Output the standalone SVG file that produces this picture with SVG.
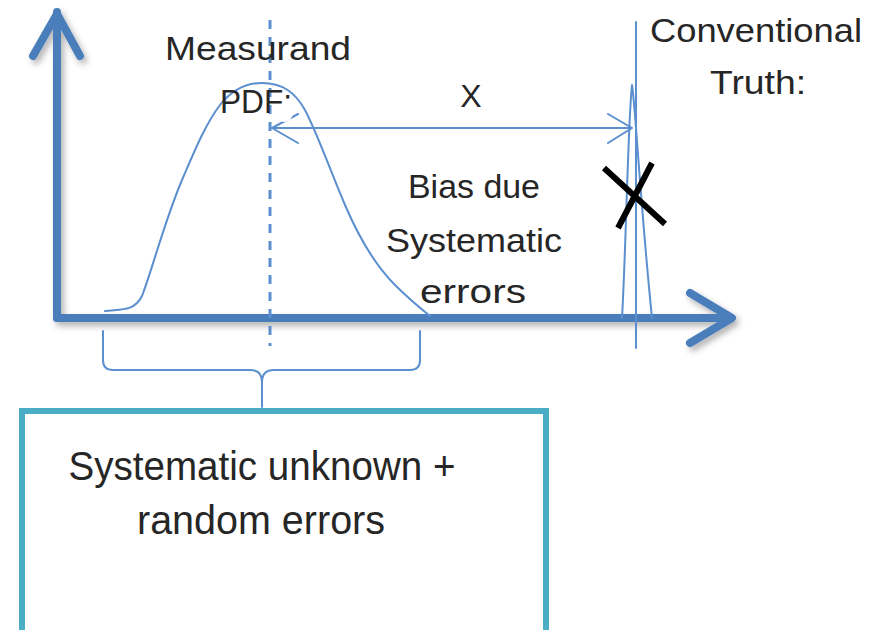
<svg xmlns="http://www.w3.org/2000/svg" width="871" height="630" viewBox="0 0 871 630">
<defs>
<style>
.txt{font-family:"Liberation Sans","DejaVu Sans",sans-serif;fill:#262626;text-anchor:middle}
.axis{stroke:#4a7ebb;stroke-width:8;fill:none;stroke-linecap:round;stroke-linejoin:round}
.thin{stroke:#5b8fcf;stroke-width:2;fill:none;stroke-linecap:round;stroke-linejoin:round}
</style>
<filter id="sh" x="-10%" y="-10%" width="130%" height="130%">
<feDropShadow dx="3" dy="4" stdDeviation="3" flood-color="#000" flood-opacity="0.3"/>
</filter>
</defs>
<rect width="871" height="630" fill="#fff"/>
<g id="axes" filter="url(#sh)">
<path class="axis" d="M57 318 V12 M33 56 L57 14 L80 56"/>
<path class="axis" d="M57 318 H730 M690 293 L732 318 L690 343"/>
</g>
<g id="pdf-curve">
<path class="thin" d="M105 311 C120 309 134 312 142 296 C152 270 165 220 182 180 C195 150 205 125 220 105 C232 90 245 83 262 83 C282 83 295 92 305 110 C318 135 330 170 345 205 C360 240 375 265 395 285 C408 298 420 308 430 316"/>
<line x1="270" y1="20" x2="270" y2="346" stroke="#5b8fcf" stroke-width="3" stroke-dasharray="9,8"/>
</g>
<g id="truth">
<line class="thin" x1="636" y1="22" x2="636" y2="348"/>
<path class="thin" d="M622 318 C626 250 628 120 632 85 C635 100 640 200 652 318"/>
</g>
<g id="connectors">
<path class="thin" d="M272 128 H632 M298 114 L272 128 L298 143 M608 114 L632 128 L608 143"/>
<path class="thin" d="M103 331 V360 Q103 370 113 370 H250 Q262 370 262 382 V407 M262 382 Q262 370 274 370 H410 Q420 370 420 360 V331"/>
</g>
<g id="truth-mark">
<path d="M604 168 L665 224 M618 228 L652 163" stroke="#000" stroke-width="6" fill="none"/>
</g>
<g id="label-measurand">
<text class="txt" x="258" y="60" font-size="34" textLength="186" lengthAdjust="spacingAndGlyphs">Measurand</text>
<text class="txt" x="256" y="113" font-size="34" textLength="72" lengthAdjust="spacingAndGlyphs">PDF:</text>
<circle cx="284" cy="113" r="9" fill="#fff"/>
</g>
<g id="label-x">
<text class="txt" x="471" y="107" font-size="32">X</text>
</g>
<g id="label-bias">
<text class="txt" x="474" y="198" font-size="34" textLength="132" lengthAdjust="spacingAndGlyphs">Bias due</text>
<text class="txt" x="474" y="252" font-size="34" textLength="176" lengthAdjust="spacingAndGlyphs">Systematic</text>
<text class="txt" x="473" y="303" font-size="34" textLength="106" lengthAdjust="spacingAndGlyphs">errors</text>
</g>
<g id="label-truth">
<text class="txt" x="756" y="42" font-size="34" textLength="212" lengthAdjust="spacingAndGlyphs">Conventional</text>
<text class="txt" x="758" y="94" font-size="34" textLength="96" lengthAdjust="spacingAndGlyphs">Truth:</text>
</g>
<g id="box">
<rect x="22" y="411" width="524" height="230" fill="#fff" stroke="#4bacc6" stroke-width="6"/>
<text class="txt" x="262" y="480" font-size="40" textLength="387" lengthAdjust="spacingAndGlyphs">Systematic unknown +</text>
<text class="txt" x="261" y="534" font-size="40" textLength="248" lengthAdjust="spacingAndGlyphs">random errors</text>
</g>
</svg>
